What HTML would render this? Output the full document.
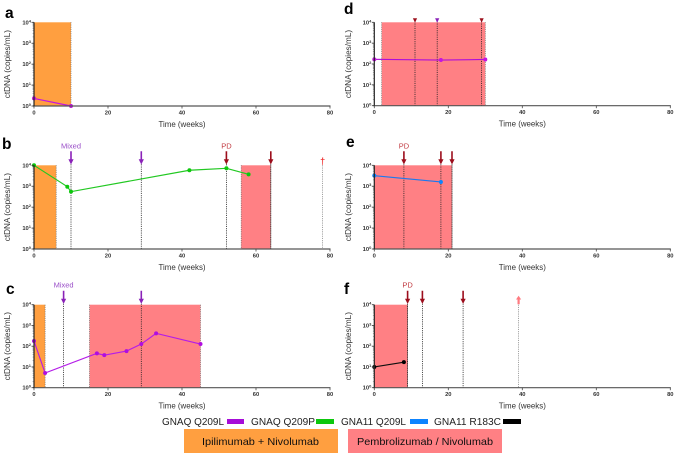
<!DOCTYPE html>
<html>
<head>
<meta charset="utf-8">
<style>
html,body{margin:0;padding:0;background:#fff;width:676px;height:455px;overflow:hidden}
svg{display:block;font-family:"Liberation Sans",sans-serif}
</style>
</head>
<body>
<svg id="fig" width="676" height="455" viewBox="0 0 676 455" xmlns="http://www.w3.org/2000/svg">
<defs><filter id="soft" x="-5%" y="-5%" width="110%" height="110%"><feGaussianBlur stdDeviation="0.33"/></filter></defs>
<g id="root" filter="url(#soft)"></g>
<g filter="url(#soft)">
<text x="162" y="425" font-size="10.5" fill="#222" textLength="62" lengthAdjust="spacingAndGlyphs">GNAQ Q209L</text>
<rect x="227" y="419" width="17" height="5" fill="#a60fd8"/>
<text x="251" y="425" font-size="10.5" fill="#222" textLength="64" lengthAdjust="spacingAndGlyphs">GNAQ Q209P</text>
<rect x="316" y="419" width="18" height="5" fill="#0cc80c"/>
<text x="341" y="425" font-size="10.5" fill="#222" textLength="65" lengthAdjust="spacingAndGlyphs">GNA11 Q209L</text>
<rect x="410" y="419" width="18" height="5" fill="#0a84ff"/>
<text x="434" y="425" font-size="10.5" fill="#222" textLength="67" lengthAdjust="spacingAndGlyphs">GNA11 R183C</text>
<rect x="503" y="419" width="18" height="5" fill="#000"/>
<rect x="184" y="429" width="154" height="24" fill="#ff9f40"/>
<text x="202" y="445" font-size="10.5" fill="#111" textLength="117" lengthAdjust="spacingAndGlyphs">Ipilimumab + Nivolumab</text>
<rect x="348" y="429" width="154" height="24" fill="#ff8084"/>
<text x="357" y="445" font-size="10.5" fill="#111" textLength="136" lengthAdjust="spacingAndGlyphs">Pembrolizumab / Nivolumab</text>
</g>
</svg>
<script>
var xTicks = [0, 20, 40, 60, 80];
var yExponents = [0, 1, 2, 3, 4];
var panelNames = ['a', 'b', 'c', 'd', 'e', 'f'];

var weeksA = [0, 10];
var valuesA = [2.3, 1];
var weeksB = [0, 9, 10, 42, 52, 58];
var valuesB = [10000, 950, 550, 5800, 7200, 3700];
var weeksC = [0, 3, 17, 19, 25, 29, 33, 45];
var valuesC = [178, 5.1, 45, 37, 58, 127, 415, 127];
var weeksD = [0, 18, 30];
var valuesD = [167, 155, 165];
var weeksE = [0, 18];
var valuesE = [3200, 1600];
var weeksF = [0, 8];
var valuesF = [10, 17];

var bandsA = [[0, 10, 'ipi']];
var bandsB = [[0, 6, 'ipi'], [56, 64, 'pem']];
var bandsC = [[0, 3, 'ipi'], [15, 45, 'pem']];
var bandsD = [[2, 30, 'pem']];
var bandsE = [[0, 21, 'pem']];
var bandsF = [[0, 9, 'pem']];

var eventsA = [];
var eventsB = [[10, 'mixed', 'Mixed'], [29, 'mixed', ''], [52, 'pd', 'PD'], [64, 'pd', ''], [78, 'death', '']];
var eventsC = [[8, 'mixed', 'Mixed'], [29, 'mixed', '']];
var eventsD = [[11, 'pdtiny', ''], [17, 'mixedtiny', ''], [29, 'pdtiny', '']];
var eventsE = [[8, 'pd', 'PD'], [18, 'pd', ''], [21, 'pd', '']];
var eventsF = [[9, 'pd', 'PD'], [13, 'pd', ''], [24, 'pd', ''], [39, 'up', '']];

var panels = [
  {n:'a', x0:34, x1:330, top:22.3, bot:106, lx:5, ly:18, tx:10, w:weeksA, v:valuesA, b:bandsA, e:eventsA, c:'#c414e0', m:'#c414e0'},
  {n:'b', x0:34, x1:330, top:165.3, bot:249, lx:2, ly:149, tx:10, w:weeksB, v:valuesB, b:bandsB, e:eventsB, c:'#20c820', m:'#0cc80c'},
  {n:'c', x0:34, x1:330, top:304.7, bot:387.7, lx:6, ly:294, tx:10, w:weeksC, v:valuesC, b:bandsC, e:eventsC, c:'#b41ce8', m:'#b010e0'},
  {n:'d', x0:374.3, x1:670.3, top:22.3, bot:105.7, lx:344, ly:14, tx:351, w:weeksD, v:valuesD, b:bandsD, e:eventsD, c:'#b010d8', m:'#c414e0'},
  {n:'e', x0:374.3, x1:670.3, top:165.3, bot:249, lx:346, ly:147, tx:351, w:weeksE, v:valuesE, b:bandsE, e:eventsE, c:'#1a78f0', m:'#0a84ff'},
  {n:'f', x0:374.3, x1:670.3, top:304.7, bot:387.7, lx:344, ly:294, tx:351, w:weeksF, v:valuesF, b:bandsF, e:eventsF, c:'#111', m:'#000'}
];

var NS = 'http://www.w3.org/2000/svg';
var root = document.getElementById('root');
function mk(parent, tag, attrs, txt) {
  var el = document.createElementNS(NS, tag);
  for (var k in attrs) el.setAttribute(k, attrs[k]);
  if (txt !== undefined) el.textContent = txt;
  parent.appendChild(el);
  return el;
}

panels.forEach(function (p) {
  var xS = function (w) { return p.x0 + (w / 80) * (p.x1 - p.x0); };
  var yS = function (v) { return p.bot - (Math.log10(v) / 4) * (p.bot - p.top); };

  var g = mk(root, 'g', {});
  
  

  var letter = mk(g, 'text', {x:p.lx, y:p.ly, 'font-size':15.5, 'font-weight':'bold', fill:'#000'}, p.n);
  
  

  p.b.forEach(function (b) {
    var r = mk(g, 'rect', {x:xS(b[0]), y:p.top, width:xS(b[1]) - xS(b[0]), height:p.bot - p.top, fill:b[2] === 'ipi' ? '#ff9f40' : '#ff8084'});
    
    
    [b[0], b[1]].forEach(function (edge) {
      if (edge === 0) return;
      var d = mk(g, 'line', {x1:xS(edge), x2:xS(edge), y1:p.top, y2:p.bot, stroke:'#666', 'stroke-width':0.7, 'stroke-dasharray':'1 1.2'});
      
      
    });
  });

  p.e.forEach(function (e) {
    var x = xS(e[0]);
    var kind = e[1];
    var tiny = kind === 'pdtiny' || kind === 'mixedtiny';
    var col = (kind === 'mixed' || kind === 'mixedtiny') ? '#8a22b8' : (kind === 'pd' || kind === 'pdtiny') ? '#9c0f1c' : kind === 'up' ? '#ff7a80' : '#f03030';
    var dark = kind === 'up' || kind === 'death' ? '#888' : '#222';
    var vl = mk(g, 'line', {x1:x, x2:x, y1:p.top - (kind === 'death' || kind === 'up' ? 0 : 1), y2:p.bot, stroke:dark, 'stroke-width':0.8, 'stroke-dasharray':'1.1 1.1'});
    
    
    var m;
    if (tiny) {
      m = mk(g, 'path', {d:'M' + (x - 2.1) + ' ' + (p.top - 4) + 'h4.2l-2.1 4.4z', fill:col});
    } else if (kind === 'death') {
      m = mk(g, 'text', {x:x, y:p.top - 1.5, 'text-anchor':'middle', 'font-size':9, fill:col, 'font-weight':'bold'}, '†');
    } else if (kind === 'up') {
      var t = p.top - 9;
      m = mk(g, 'path', {d:'M' + x + ' ' + t + 'l2.6 3.8h-1.5v4.8h-2.2v-4.8h-1.5z', fill:col});
    } else {
      var s = p.top - 14;
      m = mk(g, 'path', {d:'M' + (x - 0.8) + ' ' + s + 'h1.6v8h1.8l-2.6 5.2-2.6-5.2h1.8z', fill:col});
    }
    
    
    if (e[2]) {
      var lab = mk(g, 'text', {x:x, y:p.top - 17, 'text-anchor':'middle', 'font-size':7.5, fill:e[2] === 'PD' ? '#c0393f' : '#9a4fc8'}, e[2]);
      
      
    }
  });

  var pts = p.w.map(function (w, i) { return xS(w) + ',' + yS(p.v[i]); }).join(' ');
  var line = mk(g, 'polyline', {points:pts, fill:'none', stroke:p.c, 'stroke-width':1.15});
  
  
  p.w.forEach(function (w, i) {
    var c = mk(g, 'circle', {cx:xS(w), cy:yS(p.v[i]), r:2, fill:p.m});
    
    
  });

  var xAxis = mk(g, 'line', {x1:p.x0 - 1, x2:p.x1 + 0.5, y1:p.bot, y2:p.bot, stroke:'#555', 'stroke-width':1.2});
  
  
  var yAxis = mk(g, 'line', {x1:p.x0, x2:p.x0, y1:p.top, y2:p.bot, stroke:'#222', 'stroke-width':1.2});
  
  

  xTicks.forEach(function (t) {
    var tk = mk(g, 'line', {x1:xS(t), x2:xS(t), y1:p.bot, y2:p.bot + 2.5, stroke:'#444', 'stroke-width':0.8});
    
    
    var tl = mk(g, 'text', {x:xS(t), y:p.bot + 8.5, 'text-anchor':'middle', 'font-size':5.8, 'font-weight':'bold', fill:'#333'}, t);
    
    
  });

  yExponents.forEach(function (ex) {
    var y = yS(Math.pow(10, ex));
    var tk = mk(g, 'line', {x1:p.x0 - 2.5, x2:p.x0, y1:y, y2:y, stroke:'#333', 'stroke-width':0.8});
    
    
    var tl = mk(g, 'text', {x:p.x0 - 3, y:y + 2, 'text-anchor':'end', 'font-size':5.8, 'font-weight':'bold', fill:'#333'});
    
    
    mk(tl, 'tspan', {}, '10');
    mk(tl, 'tspan', {dy:-2, 'font-size':4}, ex);
    if (ex < 4) {
      [2, 3, 4, 5, 6, 7, 8, 9].forEach(function (mult) {
        var my = yS(mult * Math.pow(10, ex));
        var mt = mk(g, 'line', {x1:p.x0 - 1.4, x2:p.x0, y1:my, y2:my, stroke:'#444', 'stroke-width':0.4});
        
        
      });
    }
  });

  var xt = mk(g, 'text', {x:(p.x0 + p.x1) / 2, y:p.bot + 21, 'text-anchor':'middle', 'font-size':7.9, fill:'#333'}, 'Time (weeks)');
  
  
  var ty = (p.top + p.bot) / 2;
  var yt = mk(g, 'text', {x:p.tx, y:ty, transform:'rotate(-90 ' + p.tx + ' ' + ty + ')', 'text-anchor':'middle', 'font-size':8.2, fill:'#333'}, 'ctDNA (copies/mL)');
  
  
});
</script>
</body>
</html>
